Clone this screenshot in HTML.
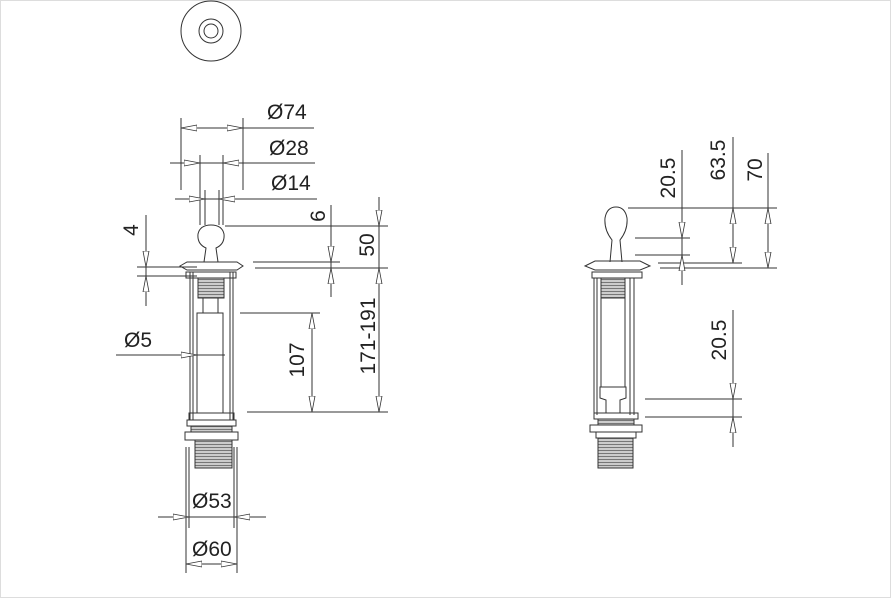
<!DOCTYPE html>
<html><head><meta charset="utf-8"><style>
html,body{margin:0;padding:0;background:#fff}
svg{display:block}
text{font-family:"Liberation Sans",Arial,sans-serif;font-size:21px;fill:#222}
</style></head><body>
<svg width="891" height="598" viewBox="0 0 891 598" xmlns="http://www.w3.org/2000/svg">
<defs>
<marker id="a" viewBox="0 0 16 8" refX="16" refY="4" markerWidth="16" markerHeight="8" orient="auto" markerUnits="userSpaceOnUse">
<path d="M0,1 L16,4 L0,7 Z" fill="#fff" stroke="#333" stroke-width="0.8"/></marker>
<marker id="b" viewBox="0 0 16 8" refX="0" refY="4" markerWidth="16" markerHeight="8" orient="auto" markerUnits="userSpaceOnUse">
<path d="M16,1 L0,4 L16,7 Z" fill="#fff" stroke="#333" stroke-width="0.8"/></marker>
<pattern id="th" width="4" height="3" patternUnits="userSpaceOnUse">
<rect width="4" height="3" fill="#ccc"/><line x1="0" y1="0.5" x2="4" y2="0.5" stroke="#777" stroke-width="1"/></pattern>
</defs>
<rect x="0.5" y="0.5" width="890" height="597" fill="none" stroke="#ddd"/>
<g stroke="#333" stroke-width="1" fill="none">
<circle cx="211" cy="31" r="30"/>
<circle cx="211" cy="31" r="12"/>
<circle cx="211" cy="31" r="7"/>
<line x1="181" y1="118" x2="181" y2="190"/><line x1="243" y1="118" x2="243" y2="190"/>
<line x1="181" y1="128" x2="314" y2="128"/>
<line x1="181" y1="128" x2="243" y2="128" marker-start="url(#b)" marker-end="url(#a)"/>
<line x1="200" y1="155" x2="200" y2="225"/><line x1="223" y1="155" x2="223" y2="225"/>
<line x1="170" y1="163" x2="315" y2="163"/>
<line x1="184" y1="163" x2="200" y2="163" marker-end="url(#a)"/>
<line x1="239" y1="163" x2="223" y2="163" marker-end="url(#a)"/>
<line x1="205" y1="190" x2="205" y2="225"/><line x1="219" y1="190" x2="219" y2="225"/>
<line x1="175" y1="199" x2="317" y2="199"/>
<line x1="189" y1="199" x2="205" y2="199" marker-end="url(#a)"/>
<line x1="235" y1="199" x2="219" y2="199" marker-end="url(#a)"/>
<path d="M204,262 L206,248 Q197,244 198,234 Q200,225 211,225 Q222,225 224,234 Q225,244 216,248 L218,262"/>
<path d="M180,266 L187,262 L237,262 L243,266 L237,270 L187,270 Z"/>
<rect x="186" y="272" width="50" height="6"/>
<rect x="198" y="278" width="26" height="20" fill="url(#th)"/>
<line x1="190" y1="272" x2="190" y2="420"/><line x1="193" y1="272" x2="193" y2="420"/>
<line x1="230" y1="272" x2="230" y2="420"/><line x1="233" y1="272" x2="233" y2="420"/>
<rect x="197" y="313" width="26" height="100"/>
<line x1="203" y1="298" x2="203" y2="313"/><line x1="218" y1="298" x2="218" y2="313"/>
<rect x="189" y="413" width="45" height="7"/>
<rect x="187" y="420" width="49" height="6"/>
<rect x="191" y="426" width="41" height="6" fill="url(#th)"/>
<rect x="185" y="432" width="53" height="8"/>
<rect x="195" y="440" width="37" height="28" fill="url(#th)"/>
<line x1="146" y1="215" x2="146" y2="306"/>
<line x1="137" y1="267" x2="197" y2="267"/><line x1="137" y1="276" x2="197" y2="276"/>
<line x1="146" y1="250" x2="146" y2="267" marker-end="url(#a)"/>
<line x1="146" y1="293" x2="146" y2="276" marker-end="url(#a)"/>
<line x1="116" y1="355" x2="225" y2="355"/>
<line x1="174" y1="355" x2="197" y2="355" marker-end="url(#a)"/>
<line x1="225" y1="226" x2="388" y2="226"/>
<line x1="253" y1="262" x2="340" y2="262"/>
<line x1="255" y1="268" x2="388" y2="268"/>
<line x1="331" y1="205" x2="331" y2="297"/>
<line x1="331" y1="245" x2="331" y2="262" marker-end="url(#a)"/>
<line x1="331" y1="285" x2="331" y2="268" marker-end="url(#a)"/>
<line x1="379" y1="197" x2="379" y2="412"/>
<line x1="379" y1="210" x2="379" y2="226" marker-end="url(#a)"/>
<line x1="379" y1="268" x2="379" y2="285" marker-start="url(#b)"/>
<line x1="379" y1="395" x2="379" y2="412" marker-end="url(#a)"/>
<line x1="240" y1="313" x2="320" y2="313"/>
<line x1="247" y1="412" x2="388" y2="412"/>
<line x1="312" y1="313" x2="312" y2="412" marker-start="url(#b)" marker-end="url(#a)"/>
<line x1="189" y1="447" x2="189" y2="528"/><line x1="234" y1="447" x2="234" y2="528"/>
<line x1="186" y1="447" x2="186" y2="573"/><line x1="237" y1="447" x2="237" y2="573"/>
<line x1="158" y1="517" x2="266" y2="517"/>
<line x1="173" y1="517" x2="189" y2="517" marker-end="url(#a)"/>
<line x1="250" y1="517" x2="234" y2="517" marker-end="url(#a)"/>
<line x1="186" y1="564" x2="237" y2="564" marker-start="url(#b)" marker-end="url(#a)"/>
<path d="M610,262 L612,240 Q604,230 605,218 Q607,207 616,207 Q625,207 627,218 Q628,230 620,240 L622,262"/>
<path d="M585,266 L595,261 L640,261 L650,266 L640,270 L595,270 Z"/>
<rect x="592" y="272" width="50" height="6"/>
<rect x="601" y="278" width="24" height="20" fill="url(#th)"/>
<line x1="594" y1="278" x2="594" y2="415"/><line x1="597" y1="278" x2="597" y2="415"/>
<line x1="630" y1="278" x2="630" y2="415"/><line x1="634" y1="278" x2="634" y2="415"/>
<line x1="601" y1="298" x2="601" y2="387"/><line x1="625" y1="298" x2="625" y2="387"/>
<path d="M600,387 L626,387 L626,398 L620,400 L620,413 L606,413 L606,400 L600,398 Z"/>
<rect x="594" y="413" width="44" height="6"/>
<rect x="598" y="419" width="36" height="6" fill="url(#th)"/>
<rect x="590" y="425" width="52" height="7"/>
<rect x="596" y="432" width="40" height="6"/>
<rect x="598" y="438" width="35" height="30" fill="url(#th)"/>
<line x1="628" y1="208" x2="777" y2="208"/>
<line x1="635" y1="238" x2="690" y2="238"/>
<line x1="635" y1="255" x2="690" y2="255"/>
<line x1="658" y1="263" x2="742" y2="263"/>
<line x1="660" y1="268" x2="777" y2="268"/>
<line x1="682" y1="150" x2="682" y2="285"/>
<line x1="682" y1="222" x2="682" y2="238" marker-end="url(#a)"/>
<line x1="682" y1="271" x2="682" y2="255" marker-end="url(#a)"/>
<line x1="733" y1="137" x2="733" y2="263"/>
<line x1="733" y1="208" x2="733" y2="224" marker-start="url(#b)"/>
<line x1="733" y1="247" x2="733" y2="263" marker-end="url(#a)"/>
<line x1="768" y1="153" x2="768" y2="268"/>
<line x1="768" y1="208" x2="768" y2="224" marker-start="url(#b)"/>
<line x1="768" y1="252" x2="768" y2="268" marker-end="url(#a)"/>
<line x1="645" y1="399" x2="742" y2="399"/>
<line x1="645" y1="417" x2="742" y2="417"/>
<line x1="733" y1="310" x2="733" y2="447"/>
<line x1="733" y1="383" x2="733" y2="399" marker-end="url(#a)"/>
<line x1="733" y1="433" x2="733" y2="417" marker-end="url(#a)"/>
</g>
<text x="267" y="119">Ø74</text>
<text x="269" y="155">Ø28</text>
<text x="271" y="190">Ø14</text>
<text x="124" y="347">Ø5</text>
<text x="192" y="508">Ø53</text>
<text x="192" y="556">Ø60</text>
<text transform="translate(138,230) rotate(-90)" text-anchor="middle">4</text>
<text transform="translate(325,216) rotate(-90)" text-anchor="middle">6</text>
<text transform="translate(374,245) rotate(-90)" text-anchor="middle">50</text>
<text transform="translate(375,336) rotate(-90)" text-anchor="middle">171-191</text>
<text transform="translate(304,360) rotate(-90)" text-anchor="middle">107</text>
<text transform="translate(675,178) rotate(-90)" text-anchor="middle">20.5</text>
<text transform="translate(725,160) rotate(-90)" text-anchor="middle">63.5</text>
<text transform="translate(762,170) rotate(-90)" text-anchor="middle">70</text>
<text transform="translate(726,340) rotate(-90)" text-anchor="middle">20.5</text>
</svg>
</body></html>
